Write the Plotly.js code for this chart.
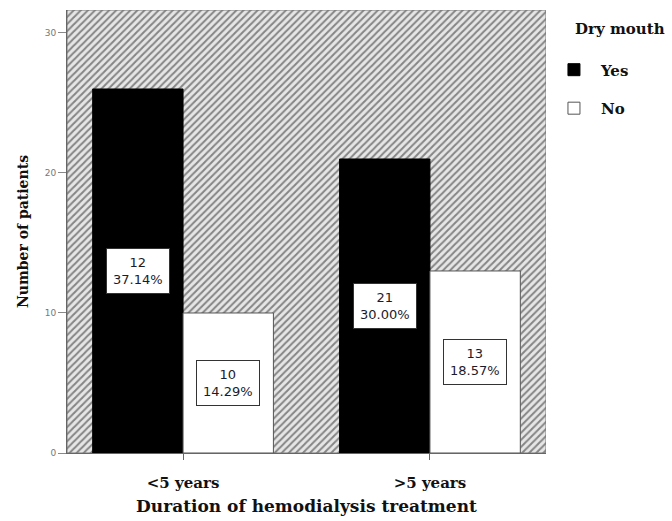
<!DOCTYPE html>
<html>
<head>
<meta charset="utf-8">
<script src="https://cdn.plot.ly/plotly-3.0.1.min.js"></script>
<style>html,body{margin:0;padding:0;background:#fff;}#chart{width:672px;height:521px;}</style>
</head>
<body>
<div id="chart"></div>
<script>
// ---- data ----
const categories = ['<5 years', '>5 years'];
const seriesNames = ['Yes', 'No'];
const yesCounts = [26, 21];
const noCounts = [10, 13];
const yesLabels = ['12<br>37.14%', '21<br>30.00%'];
const noLabels = ['10<br>14.29%', '13<br>18.57%'];
const yTicks = [0, 10, 20, 30];
const legendTitle = 'Dry mouth';
const xTitle = 'Duration of hemodialysis treatment';
const yTitle = 'Number of patients';

const serif = 'DejaVu Serif, Liberation Serif, serif';
const sans = 'DejaVu Sans, Verdana, sans-serif';

// hatched plot background (fills hidden [0,1] axes)
const bg = {
  type: 'bar', x: [0.5], y: [1], width: [1], xaxis: 'x', yaxis: 'y',
  marker: {color: '#e4e4e4', line: {color: '#7a7a7a', width: 1},
    pattern: {shape: '/', bgcolor: '#e6e6e6', fgcolor: '#858585', size: 5, solidity: 0.4}},
  showlegend: false, hoverinfo: 'skip'
};

const yes = {
  type: 'bar', name: seriesNames[0], x: categories, y: yesCounts,
  xaxis: 'x2', yaxis: 'y2', legendgroup: 'g1',
  marker: {color: '#000000', line: {color: '#000000', width: 1}}
};
const no = {
  type: 'bar', name: seriesNames[1], x: categories, y: noCounts,
  xaxis: 'x2', yaxis: 'y2', legendgroup: 'g2',
  marker: {color: '#ffffff', line: {color: '#555555', width: 1}}
};

const annotations = [];
categories.forEach((c, i) => {
  [[yesCounts, yesLabels, -45], [noCounts, noLabels, 45]].forEach(([vals, labs, shift]) => {
    annotations.push({
      xref: 'x2', yref: 'y2', x: c, y: vals[i] / 2, xshift: shift,
      text: labs[i], showarrow: false, align: 'center',
      bgcolor: '#ffffff', bordercolor: '#333333', borderwidth: 1, borderpad: 6,
      font: {family: sans, size: 13, color: '#1b1b2b'}
    });
  });
});

const layout = {
  width: 672, height: 521,
  margin: {l: 67, r: 126, t: 10, b: 68, autoexpand: false},
  paper_bgcolor: '#ffffff', plot_bgcolor: 'rgba(0,0,0,0)',
  barmode: 'group', bargap: 0.268, bargroupgap: 0,
  showlegend: true,
  xaxis: {range: [0, 1], visible: false, fixedrange: true},
  yaxis: {range: [0, 1], visible: false, fixedrange: true},
  xaxis2: {
    overlaying: 'x', anchor: 'y2', type: 'category', categoryarray: categories,
    range: [-0.47, 1.47], showline: true, linecolor: '#666666', linewidth: 1,
    ticks: 'outside', ticklen: 6, tickcolor: '#666666', showgrid: false, zeroline: false,
    tickfont: {family: serif, size: 15, color: '#111111', weight: 'bold'},
    ticklabelstandoff: 10,
    title: {text: xTitle, standoff: 9, font: {family: serif, size: 17, color: '#111111', weight: 'bold'}}
  },
  yaxis2: {
    overlaying: 'y', anchor: 'x2', side: 'left', range: [0, 31.64],
    tickvals: yTicks, ticks: 'outside', ticklen: 8, tickcolor: '#888888',
    showline: true, linecolor: '#666666', linewidth: 1, showgrid: false, zeroline: false,
    tickfont: {family: sans, size: 9, color: '#777777'},
    title: {text: yTitle, standoff: 12, font: {family: serif, size: 14, color: '#111111', weight: 'bold'}}
  },
  legend: {
    x: 1.002, xanchor: 'left', y: 0.99, yanchor: 'top',
    traceorder: 'grouped', tracegroupgap: 16, itemwidth: 44,
    bgcolor: 'rgba(0,0,0,0)',
    font: {family: serif, size: 15, color: '#111111', weight: 'bold'},
    title: {text: '\u00a0\u00a0\u00a0\u00a0\u00a0' + legendTitle + '<br> ', font: {family: serif, size: 15, color: '#111111', weight: 'bold'}}
  },
  annotations: annotations
};

Plotly.newPlot('chart', [bg, yes, no], layout, {displayModeBar: false, staticPlot: true});
</script>
</body>
</html>
